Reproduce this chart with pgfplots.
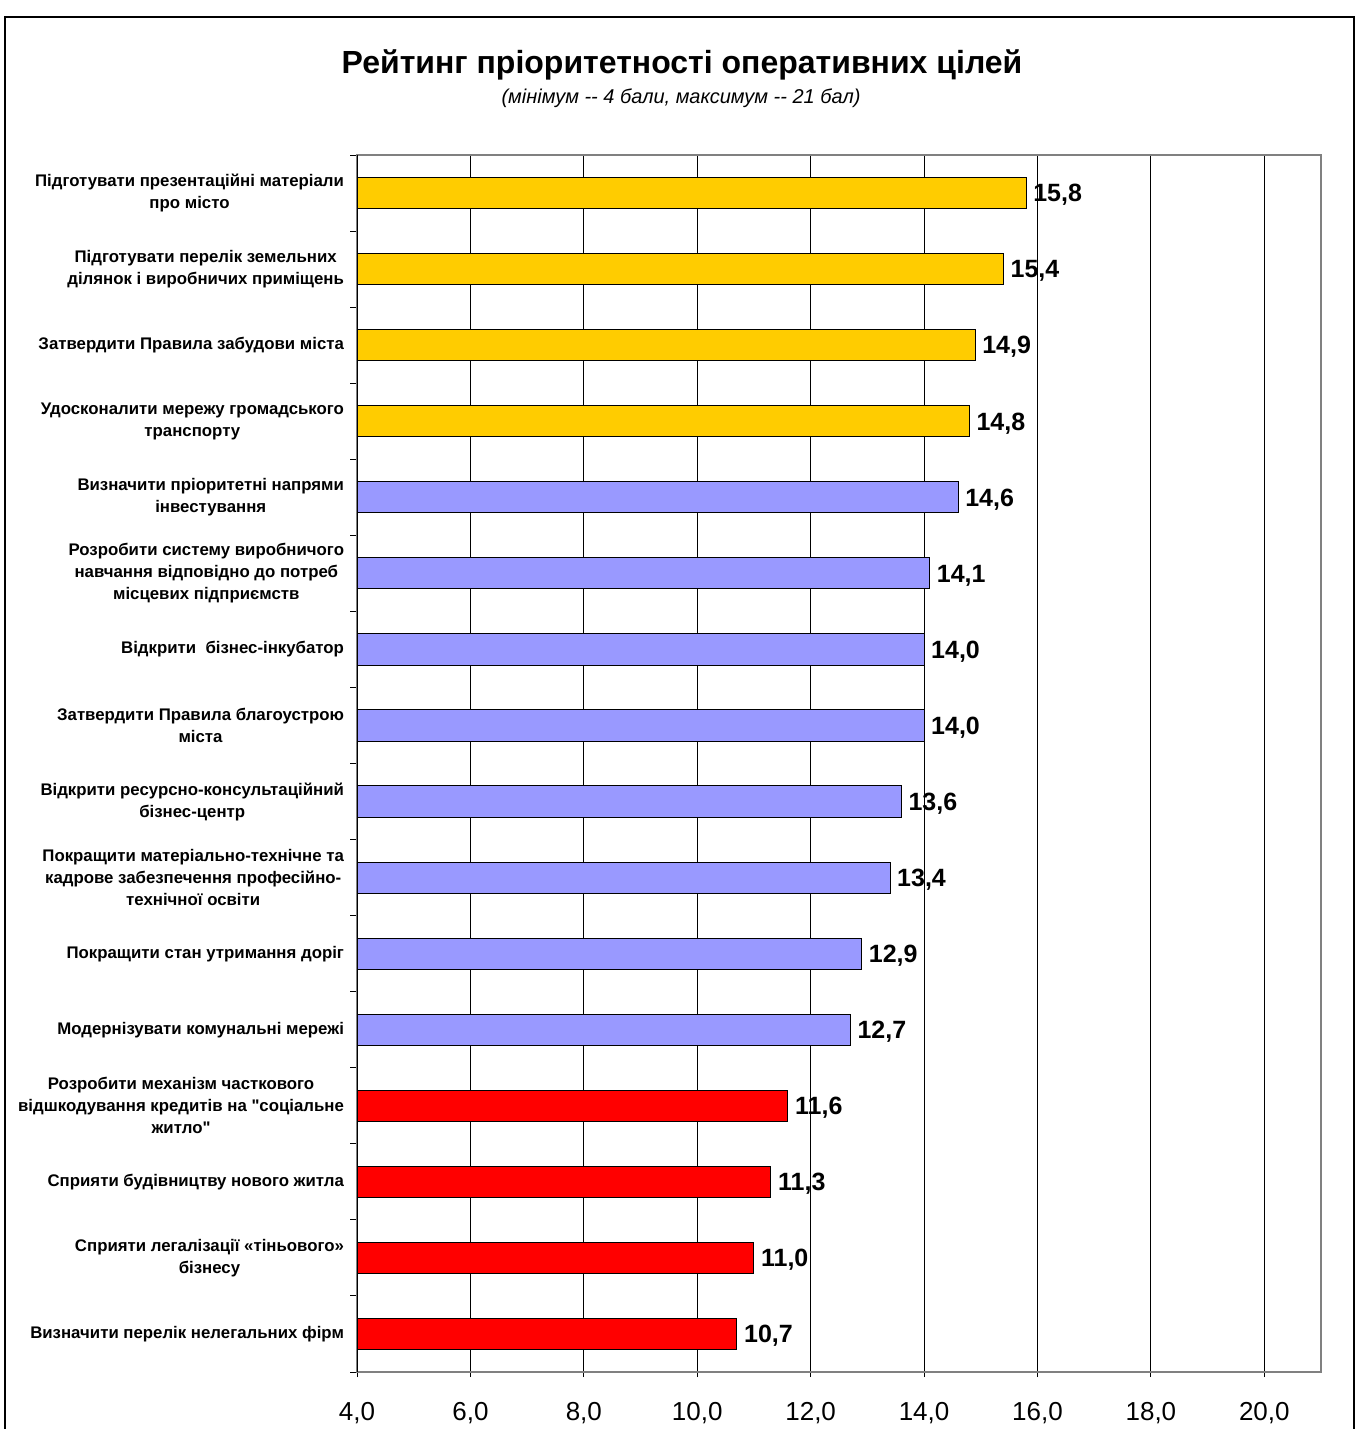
\documentclass[border=0pt]{standalone}
\usepackage{pgfplots}
\pgfplotsset{compat=1.18}
\usepackage{fontspec}
\setmainfont{Liberation Sans}[Ligatures=TeXOff]
\definecolor{gold}{HTML}{FFCC00}
\definecolor{lav}{HTML}{9999FF}
\definecolor{redb}{HTML}{FF0000}
\begin{document}
\begin{tikzpicture}
\useasboundingbox (0,0) rectangle (679.5pt,714.5pt);
\draw[line width=1pt] (2.5pt,-3pt) -- (2.5pt,706pt) -- (677pt,706pt) -- (677pt,-3pt);
\node[font=\bfseries\fontsize{16}{18}\selectfont] at (341pt,682pt) {Рейтинг пріоритетності оперативних цілей};
\node[font=\itshape\fontsize{10}{11}\selectfont] at (340.5pt,665.5pt) {(мінімум -- 4 бали, максимум -- 21 бал)};
\begin{axis}[
  at={(178.5pt,28.5pt)}, anchor=south west,
  scale only axis, width=482pt, height=608.5pt,
  xbar, bar width=0.41, bar shift=0pt,
  xmin=4, xmax=21, ymin=-0.5, ymax=15.5, y dir=reverse,
  xtick={4,6,...,20},
  ytick={0,...,15},
  yticklabels={
    {Підготувати презентаційні матеріали\\про місто},
    {Підготувати перелік земельних\\ділянок і виробничих приміщень},
    {Затвердити Правила забудови міста},
    {Удосконалити мережу громадського\\транспорту},
    {Визначити пріоритетні напрями\\інвестування},
    {Розробити систему виробничого\\навчання відповідно до потреб\\місцевих підприємств},
    {Відкрити\ \ бізнес-інкубатор},
    {Затвердити Правила благоустрою\\міста},
    {Відкрити ресурсно-консультаційний\\бізнес-центр},
    {Покращити матеріально-технічне та\\кадрове забезпечення професійно-\\технічної освіти},
    {Покращити стан утримання доріг},
    {Модернізувати комунальні мережі},
    {Розробити механізм часткового\\відшкодування кредитів на "соціальне\\житло"},
    {Сприяти будівництву нового житла},
    {Сприяти легалізації «тіньового»\\бізнесу},
    {Визначити перелік нелегальних фірм}},
  minor ytick={-0.5,0.5,...,15.5},
  major y tick style={draw=none},
  minor tick length=3.5pt, major tick length=2.5pt,
  tick align=outside, xtick pos=bottom, ytick pos=left,
  tick style={black, line width=0.5pt},
  xmajorgrids, major x grid style={black, line width=0.5pt},
  axis line style={draw=gray, line width=0.6pt},
  yticklabel style={align=center, font=\bfseries\fontsize{8.4}{11}\selectfont, xshift=-0.5pt},
  xticklabel style={font=\fontsize{13}{15}\selectfont, yshift=-9pt},
  /pgf/number format/use comma,
  /pgf/number format/fixed,
  /pgf/number format/fixed zerofill,
  /pgf/number format/precision=1,
  /pgf/number format/assume math mode=true,
  nodes near coords,
  nodes near coords style={font=\bfseries\fontsize{12.5}{14}\selectfont, black, yshift=-1pt},
  every axis plot/.append style={draw=black, line width=0.5pt},
]
\addplot[fill=gold] coordinates {(15.8,0) (15.4,1) (14.9,2) (14.8,3)};
\addplot[fill=lav] coordinates {(14.6,4) (14.1,5) (14.0,6) (14.0,7) (13.6,8) (13.4,9) (12.9,10) (12.7,11)};
\addplot[fill=redb] coordinates {(11.6,12) (11.3,13) (11.0,14) (10.7,15)};
\draw[black, line width=0.6pt] (axis cs:4,-0.5) -- (axis cs:4,15.5);
\end{axis}
\end{tikzpicture}
\end{document}
